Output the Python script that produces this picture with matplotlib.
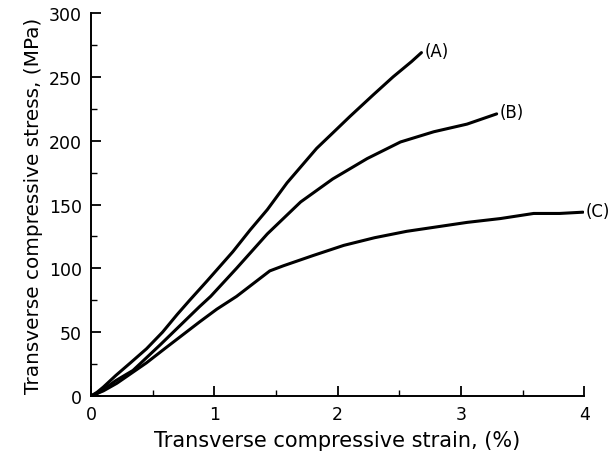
import matplotlib
matplotlib.use("Agg")
import matplotlib.pyplot as plt
from matplotlib.ticker import MultipleLocator

plt.rcParams['font.family'] = ['DejaVu Sans']

strain_A = [0, 0.05, 0.1, 0.2, 0.32, 0.45, 0.58, 0.7, 0.8, 0.94, 1.15, 1.29, 1.43, 1.59, 1.83, 1.96, 2.1, 2.29, 2.45, 2.6, 2.68]
stress_A = [0, 3, 7, 16, 26, 37, 50, 64, 75, 90, 113, 130, 146, 167, 194, 206, 219, 236, 250, 262, 269]

strain_B = [0, 0.05, 0.1, 0.2, 0.34, 0.56, 0.72, 0.88, 0.97, 1.18, 1.43, 1.70, 1.96, 2.24, 2.51, 2.78, 3.05, 3.29]
stress_B = [0, 2, 5, 12, 20, 40, 55, 70, 78, 100, 127, 152, 170, 186, 199, 207, 213, 221]

strain_C = [0, 0.05, 0.1, 0.21, 0.45, 0.61, 0.88, 1.02, 1.18, 1.45, 1.56, 1.8, 2.05, 2.3, 2.56, 2.7, 3.05, 3.32, 3.59, 3.8, 3.99]
stress_C = [0, 2, 4, 10, 26, 38, 58, 68, 78, 98, 102, 110, 118, 124, 129, 131, 136, 139, 143, 143, 144]

labels = ['(A)', '(B)', '(C)']

fig = plt.figure(figsize=(6.13, 4.56), dpi=100)
ax = fig.add_axes([0.1485, 0.1294, 0.8045, 0.8398])

for xs, ys, lab in zip([strain_A, strain_B, strain_C], [stress_A, stress_B, stress_C], labels):
    ax.plot(xs, ys, color='black', lw=2.2, solid_capstyle='round', solid_joinstyle='round')
    ax.annotate(lab, xy=(xs[-1], ys[-1]), xytext=(2, 1), textcoords='offset points',
                ha='left', va='center', fontsize=12)

ax.set_xlim(0, 4)
ax.set_ylim(0, 300)
ax.xaxis.set_major_locator(MultipleLocator(1))
ax.xaxis.set_minor_locator(MultipleLocator(0.5))
ax.yaxis.set_major_locator(MultipleLocator(50))
ax.yaxis.set_minor_locator(MultipleLocator(25))
ax.spines['top'].set_visible(False)
ax.spines['right'].set_visible(False)
for s in ['left', 'bottom']:
    ax.spines[s].set_linewidth(1.4)
ax.tick_params(axis='both', which='major', direction='in', length=7, width=1.3, labelsize=12.5, pad=6.5)
ax.tick_params(axis='both', which='minor', direction='in', length=4, width=1.0)
ax.set_xlabel('Transverse compressive strain, (%)', fontsize=15, labelpad=5)
ax.set_ylabel('Transverse compressive stress, (MPa)', fontsize=14.4, labelpad=4)

fig.savefig('out.png', dpi=100)
